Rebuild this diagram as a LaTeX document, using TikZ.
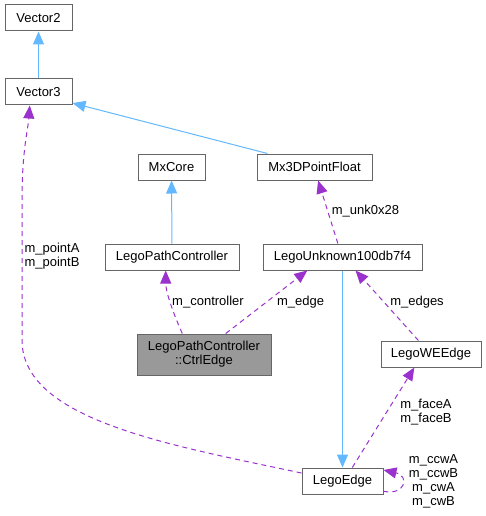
\documentclass[tikz,border=0pt]{standalone}
\usepackage{fontspec}
\setmainfont{Liberation Sans}
\usetikzlibrary{calc,shapes,positioning}
\usetikzlibrary{arrows,arrows.meta}
\definecolor{edgeblue}{HTML}{63B8FF}
\definecolor{edgepurple}{HTML}{9A32CD}
\definecolor{boxgray}{HTML}{666666}
\definecolor{fillgray}{HTML}{999999}

\begin{document}
\begin{tikzpicture}[x=1pt, y=-1pt, font=\fontsize{13}{14}\selectfont]
    \tikzstyle{cnode} = [draw=boxgray, line width=1pt, rectangle, minimum height=26pt, inner sep=0pt, align=center]
    \tikzstyle{hnode} = [cnode, fill=fillgray, minimum height=41pt]
    \tikzstyle{lnode} = [inner sep=0pt, align=center]
    \tikzstyle{iedge} = [draw=edgeblue, line width=1pt, -{Triangle[length=13pt,width=11pt]}]
    \tikzstyle{uedge} = [draw=edgepurple, line width=1pt, dash pattern=on 5pt off 4pt, -{Triangle[length=13pt,width=11pt]}]
    \useasboundingbox (0,0) rectangle (486,516);

    \node[cnode, minimum width=67pt] (v2) at (38.5,18) {Vector2};
    \node[cnode, minimum width=67pt] (v3) at (38.5,92) {Vector3};
    \node[cnode, minimum width=67pt] (mxcore) at (171.5,167) {MxCore};
    \node[cnode, minimum width=115pt] (mx3d) at (314.5,167) {Mx3DPointFloat};
    \node[cnode, minimum width=134pt] (lpc) at (172,257) {LegoPathController};
    \node[cnode, minimum width=159pt] (lu) at (342.5,257) {LegoUnknown100db7f4};
    \node[hnode, minimum width=134pt] (ctrl) at (204,354.5) {LegoPathController\\::CtrlEdge};
    \node[cnode, minimum width=100pt] (lwe) at (431,354) {LegoWEEdge};
    \node[cnode, minimum width=81pt] (le) at (342.5,481) {LegoEdge};

    % inheritance
    \draw[iedge] (v3) -- (v2);
    \draw[iedge] (mx3d.164) -- (v3.-18);
    \draw[iedge] (lpc) -- (mxcore);
    \draw[iedge] (lu) -- (le);

    % members
    \draw[uedge] (ctrl.136) .. controls +(-8,-18) and +(0,22) .. (lpc.-115);
    \draw[uedge] (ctrl.44) -- (lu.-159);
    \draw[uedge] (lu.109) -- (mx3d.-75);
    \draw[uedge] (lwe.133) -- (lu.-46);
    \draw[uedge] (le.54) -- (lwe.-141);
    \draw[uedge] (le.169) .. controls (170,445) and (22,420) .. (22,340) -- (22,200) .. controls (22,150) and (28,130) .. (v3.-123);
    \draw[uedge] (le.-14) .. controls (405,496) and (410,476) .. (le.15);

    \node[lnode] (lpoint) at (52,256) {m\_pointA\\m\_pointB};
    \node[lnode] (lctrl) at (208,302) {m\_controller};
    \node[lnode] (ledge) at (300.5,302) {m\_edge};
    \node[lnode] (lunk) at (365.5,211) {m\_unk0x28};
    \node[lnode] (ledges) at (417,302) {m\_edges};
    \node[lnode] (lface) at (426,412) {m\_faceA\\m\_faceB};
    \node[lnode] (lloop) at (433.5,481) {m\_ccwA\\m\_ccwB\\m\_cwA\\m\_cwB};
\end{tikzpicture}
\end{document}
